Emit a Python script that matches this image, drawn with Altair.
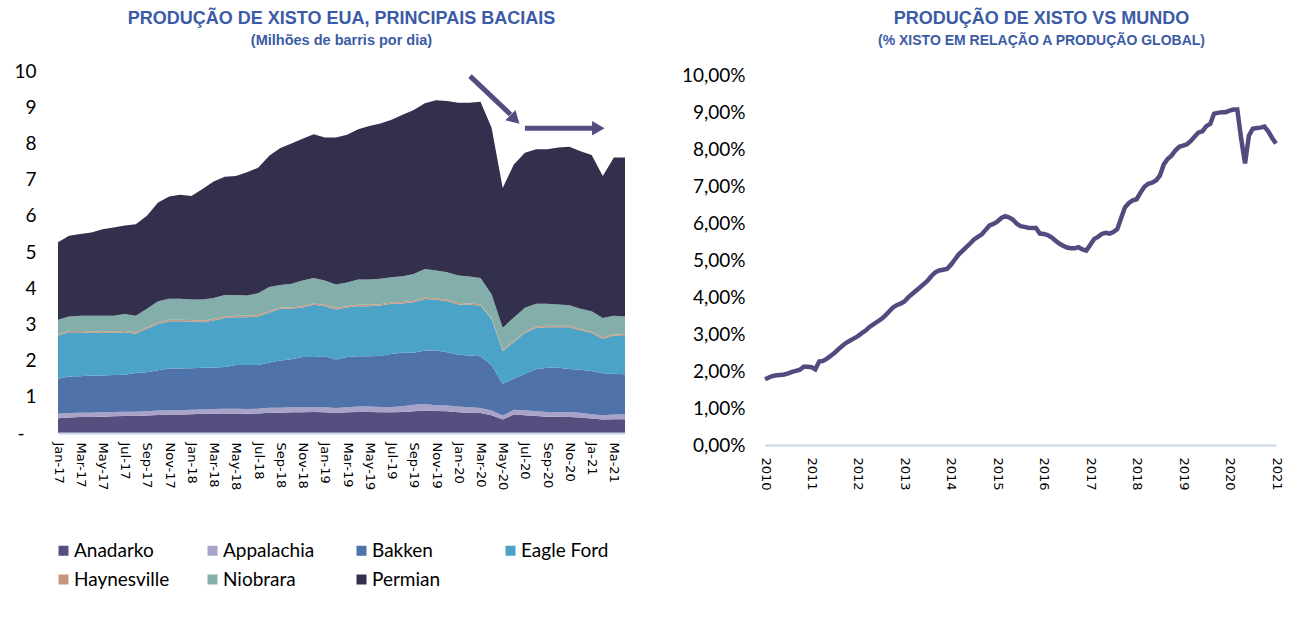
import json
import altair as alt
import pandas as pd

# ---------------- Left chart data (million barrels per day) ----------------
month_index = list(range(52))  # Jan-17 .. Apr-21
x_tick_labels = ["Jan-17", "Mar-17", "May-17", "Jul-17", "Sep-17", "Nov-17",
                 "Jan-18", "Mar-18", "May-18", "Jul-18", "Sep-18", "Nov-18",
                 "Jan-19", "Mar-19", "May-19", "Jul-19", "Sep-19", "Nov-19",
                 "Jan-20", "Mar-20", "May-20", "Jul-20", "Sep-20", "No-20",
                 "Ja-21", "Ma-21"]
basins = ["Anadarko", "Appalachia", "Bakken", "Eagle Ford", "Haynesville", "Niobrara", "Permian"]
basin_colors = ["#544f7f", "#a9a3c9", "#4f72a8", "#4ba4c8", "#c8967c", "#84aeaa", "#33304e"]

anadarko = [0.41, 0.43, 0.44, 0.44, 0.45, 0.46, 0.47, 0.47, 0.48, 0.50, 0.51, 0.51,
            0.52, 0.53, 0.53, 0.54, 0.54, 0.53, 0.54, 0.56, 0.56, 0.57, 0.57, 0.58,
            0.57, 0.55, 0.57, 0.58, 0.58, 0.57, 0.57, 0.58, 0.60, 0.62, 0.61, 0.60,
            0.57, 0.56, 0.55, 0.49, 0.37, 0.51, 0.49, 0.47, 0.45, 0.45, 0.44, 0.43,
            0.40, 0.37, 0.38, 0.38]
appalachia = [0.12, 0.12, 0.12, 0.12, 0.12, 0.12, 0.12, 0.12, 0.12, 0.12, 0.12, 0.12,
              0.12, 0.12, 0.13, 0.13, 0.13, 0.13, 0.13, 0.14, 0.14, 0.14, 0.14, 0.14,
              0.14, 0.14, 0.14, 0.15, 0.15, 0.15, 0.15, 0.16, 0.18, 0.18, 0.16, 0.16,
              0.16, 0.15, 0.14, 0.13, 0.11, 0.13, 0.14, 0.13, 0.13, 0.13, 0.13, 0.13,
              0.12, 0.12, 0.13, 0.13]
bakken = [0.97, 1.01, 1.01, 1.03, 1.02, 1.02, 1.02, 1.07, 1.08, 1.11, 1.15, 1.15,
          1.15, 1.15, 1.15, 1.15, 1.21, 1.22, 1.21, 1.25, 1.30, 1.33, 1.39, 1.38,
          1.41, 1.34, 1.39, 1.39, 1.39, 1.41, 1.47, 1.48, 1.44, 1.48, 1.51, 1.47,
          1.43, 1.43, 1.43, 1.25, 0.88, 0.86, 1.01, 1.16, 1.22, 1.22, 1.20, 1.19,
          1.19, 1.16, 1.13, 1.11]
eagle_ford = [1.19, 1.22, 1.21, 1.18, 1.17, 1.17, 1.17, 1.08, 1.20, 1.28, 1.31, 1.31,
              1.29, 1.26, 1.30, 1.36, 1.32, 1.32, 1.34, 1.37, 1.43, 1.39, 1.37, 1.44,
              1.38, 1.38, 1.37, 1.38, 1.38, 1.39, 1.38, 1.36, 1.39, 1.42, 1.40, 1.41,
              1.39, 1.40, 1.40, 1.28, 0.90, 1.01, 1.12, 1.14, 1.12, 1.12, 1.15, 1.08,
              1.05, 0.95, 1.05, 1.05]
haynesville = [0.04, 0.04, 0.04, 0.04, 0.04, 0.04, 0.04, 0.04, 0.04, 0.04, 0.04, 0.04,
               0.04, 0.04, 0.04, 0.04, 0.04, 0.04, 0.04, 0.04, 0.04, 0.04, 0.04, 0.04,
               0.04, 0.04, 0.04, 0.04, 0.04, 0.04, 0.04, 0.04, 0.04, 0.04, 0.04, 0.04,
               0.04, 0.04, 0.04, 0.03, 0.03, 0.03, 0.03, 0.04, 0.04, 0.04, 0.04, 0.04,
               0.04, 0.04, 0.04, 0.04]
niobrara = [0.40, 0.40, 0.42, 0.43, 0.44, 0.43, 0.47, 0.46, 0.51, 0.59, 0.58, 0.58,
            0.57, 0.59, 0.58, 0.59, 0.57, 0.56, 0.60, 0.67, 0.62, 0.65, 0.70, 0.70,
            0.67, 0.65, 0.65, 0.70, 0.70, 0.70, 0.69, 0.71, 0.74, 0.79, 0.77, 0.76,
            0.76, 0.74, 0.72, 0.65, 0.62, 0.65, 0.67, 0.63, 0.61, 0.59, 0.57, 0.56,
            0.56, 0.54, 0.51, 0.51]
permian = [2.14, 2.23, 2.26, 2.30, 2.39, 2.44, 2.44, 2.53, 2.57, 2.73, 2.82, 2.87,
           2.86, 3.05, 3.22, 3.27, 3.29, 3.40, 3.47, 3.63, 3.78, 3.88, 3.92, 3.97,
           3.95, 4.06, 4.08, 4.15, 4.24, 4.29, 4.35, 4.46, 4.53, 4.58, 4.70, 4.73,
           4.77, 4.80, 4.87, 4.60, 3.86, 4.23, 4.28, 4.27, 4.27, 4.34, 4.38, 4.35,
           4.32, 3.92, 4.37, 4.39]
series = [anadarko, appalachia, bakken, eagle_ford, haynesville, niobrara, permian]

# annotation arrows (in data units of the left chart)
arrow_x = [37.06, 42.0]
arrow_y = [9.86, 8.42]
arrow_x2 = [40.7, 48.3]
arrow_y2 = [8.80, 8.42]
head_x = [41.1, 48.6]
head_y = [8.66, 8.42]
head_angle = [44, 0]

# ---------------- Right chart data (% shale of global production) ----------------
year_labels = ["2010", "2011", "2012", "2013", "2014", "2015",
               "2016", "2017", "2018", "2019", "2020", "2021"]
shale_share = [
    1.78, 1.83, 1.87, 1.89, 1.90, 1.91, 1.94, 1.98, 2.01, 2.04, 2.12, 2.12,
    2.11, 2.05, 2.26, 2.28, 2.34, 2.42, 2.50, 2.60, 2.69, 2.77, 2.83, 2.89,
    2.95, 3.03, 3.10, 3.20, 3.27, 3.34, 3.41, 3.50, 3.61, 3.72, 3.79, 3.83,
    3.89, 4.00, 4.09, 4.18, 4.27, 4.36, 4.45, 4.58, 4.68, 4.73, 4.75, 4.77,
    4.88, 5.02, 5.16, 5.26, 5.36, 5.46, 5.57, 5.64, 5.71, 5.83, 5.95, 5.99,
    6.05, 6.15, 6.20, 6.17, 6.11, 6.00, 5.93, 5.91, 5.89, 5.88, 5.88, 5.73,
    5.72, 5.69, 5.63, 5.54, 5.46, 5.40, 5.35, 5.33, 5.33, 5.36, 5.30, 5.27,
    5.42, 5.58, 5.64, 5.72, 5.75, 5.73, 5.77, 5.85, 6.15, 6.44, 6.56, 6.63,
    6.66, 6.84, 7.00, 7.08, 7.11, 7.17, 7.30, 7.60, 7.75, 7.84, 7.98, 8.08,
    8.11, 8.15, 8.24, 8.36, 8.47, 8.50, 8.64, 8.70, 8.98, 9.00, 9.02, 9.02,
    9.06, 9.09, 9.09, 8.30, 7.63, 8.38, 8.57, 8.59, 8.60, 8.63, 8.50, 8.32,
    8.17]

# ---------------- Build tables ----------------
rows = []
for k, (name, vals) in enumerate(zip(basins, series)):
    for i, v in zip(month_index, vals):
        rows.append({"i": i, "basin": name, "v": v, "k": k})
df_left = pd.DataFrame(rows)
df_arrows = pd.DataFrame({"i": arrow_x, "v": arrow_y, "x2": arrow_x2, "y2": arrow_y2})
df_heads = pd.DataFrame({"i": head_x, "v": head_y, "a": head_angle})
df_right = pd.DataFrame({"m": list(range(len(shale_share))), "p": shale_share})

TITLE_FONT = "Liberation Sans Narrow, Liberation Sans, Arial, sans-serif"
TITLE_COLOR = "#3b5ba6"
LABEL_FONT = "Lato"
TICK_FONT = "DejaVu Sans"
ARROW_COLOR = "#524d80"
AXIS_LINE = "#c9d5ea"

x_axis_left = alt.Axis(values=list(range(0, 51, 2)),
                       labelExpr=json.dumps(x_tick_labels) + "[datum.value/2]",
                       labelAngle=90, labelFont=TICK_FONT, labelFontSize=13,
                       labelColor="#000000", labelPadding=9, ticks=False,
                       domainColor=AXIS_LINE, domainWidth=2, grid=False,
                       title=None, zindex=1, labelOverlap=False)
y_axis_left = alt.Axis(values=list(range(11)),
                       labelExpr="datum.value == 0 ? '-' : datum.label",
                       domain=False, ticks=False, grid=False, labelFont=LABEL_FONT,
                       labelFontSize=19, labelColor="#000000",
                       labelPadding={"condition": {"test": "datum.value == 0", "value": 34},
                                     "value": 22},
                       title=None, labelOverlap=False)
x_scale_left = alt.Scale(domain=[0, 51], nice=False, zero=False)
y_scale_left = alt.Scale(domain=[0, 10], nice=False)

area = alt.Chart(df_left).mark_area(opacity=1).encode(
    x=alt.X("i:Q", scale=x_scale_left, axis=x_axis_left, title=None),
    y=alt.Y("v:Q", stack="zero", scale=y_scale_left, axis=y_axis_left, title=None),
    color=alt.Color("basin:N",
                    scale=alt.Scale(domain=basins, range=basin_colors),
                    legend=alt.Legend(orient="none", legendX=-4, legendY=470,
                                      direction="horizontal",
                                      columns=4, symbolType="square", symbolSize=100,
                                      symbolStrokeWidth=0, labelFont=LABEL_FONT,
                                      labelFontSize=19, labelColor="#000000",
                                      labelOffset=1, rowPadding=9, columnPadding=33,
                                      gridAlign="all", title=None, labelLimit=200)),
    order=alt.Order("k:Q", sort="ascending"),
)

shafts = alt.Chart(df_arrows).mark_rule(color=ARROW_COLOR, strokeWidth=5, strokeCap="butt").encode(
    x=alt.X("i:Q", scale=x_scale_left, axis=x_axis_left, title=None),
    y=alt.Y("v:Q", scale=y_scale_left, axis=y_axis_left, title=None),
    x2="x2:Q", y2="y2:Q"
)
heads = alt.Chart(df_heads).mark_point(shape="triangle-right", filled=True, opacity=1,
                                       color=ARROW_COLOR, size=210).encode(
    x=alt.X("i:Q", scale=x_scale_left, axis=x_axis_left, title=None),
    y=alt.Y("v:Q", scale=y_scale_left, axis=y_axis_left, title=None),
    angle=alt.Angle("a:Q", scale=None)
)

left = alt.layer(area, shafts, heads).properties(
    width=567, height=362,
    title=alt.TitleParams(
        text="PRODUÇÃO DE XISTO EUA, PRINCIPAIS BACIAIS",
        subtitle="(Milhões de barris por dia)",
        font=TITLE_FONT, fontSize=18, fontWeight="bold", color=TITLE_COLOR,
        subtitleFont=TITLE_FONT, subtitleFontSize=14.5, subtitleFontWeight="bold",
        subtitleColor=TITLE_COLOR, subtitlePadding=6, anchor="middle", offset=15),
)

right = alt.Chart(df_right).mark_line(color="#514c7f", strokeWidth=4.5).encode(
    x=alt.X("m:Q",
            scale=alt.Scale(domain=[0, 132], nice=False, zero=False),
            axis=alt.Axis(values=list(range(0, 133, 12)),
                          labelExpr=json.dumps(year_labels) + "[datum.value/12]",
                          labelAngle=90, labelFont=TICK_FONT, labelFontSize=13,
                          labelColor="#000000", labelPadding=12, ticks=False,
                          domainColor=AXIS_LINE, domainWidth=2, grid=False,
                          title=None, labelOverlap=False)),
    y=alt.Y("p:Q",
            scale=alt.Scale(domain=[0, 10.135], nice=False),
            axis=alt.Axis(values=list(range(11)),
                          labelExpr="replace(format(datum.value, '.2f'), '.', ',') + '%'",
                          domain=False, ticks=False, grid=False, labelFont=LABEL_FONT,
                          labelFontSize=19, labelColor="#000000", labelPadding=20,
                          title=None, labelOverlap=False)),
).properties(
    width=511, height=374,
    title=alt.TitleParams(
        text="PRODUÇÃO DE XISTO VS MUNDO",
        subtitle="(% XISTO EM RELAÇÃO A PRODUÇÃO GLOBAL)",
        font=TITLE_FONT, fontSize=18, fontWeight="bold", color=TITLE_COLOR,
        subtitleFont=TITLE_FONT, subtitleFontSize=14, subtitleFontWeight="bold",
        subtitleColor=TITLE_COLOR, subtitlePadding=6, anchor="middle", offset=19, dx=21),
)

chart = alt.hconcat(left, right, spacing=56).properties(
    padding={"left": 13, "top": 9, "right": 5, "bottom": 5},
    background="white",
).configure_view(stroke=None).configure_axisX(labelFontSize=13, labelFont=TICK_FONT)

chart.save("out.html", embed_options={"renderer": "svg", "actions": False})
